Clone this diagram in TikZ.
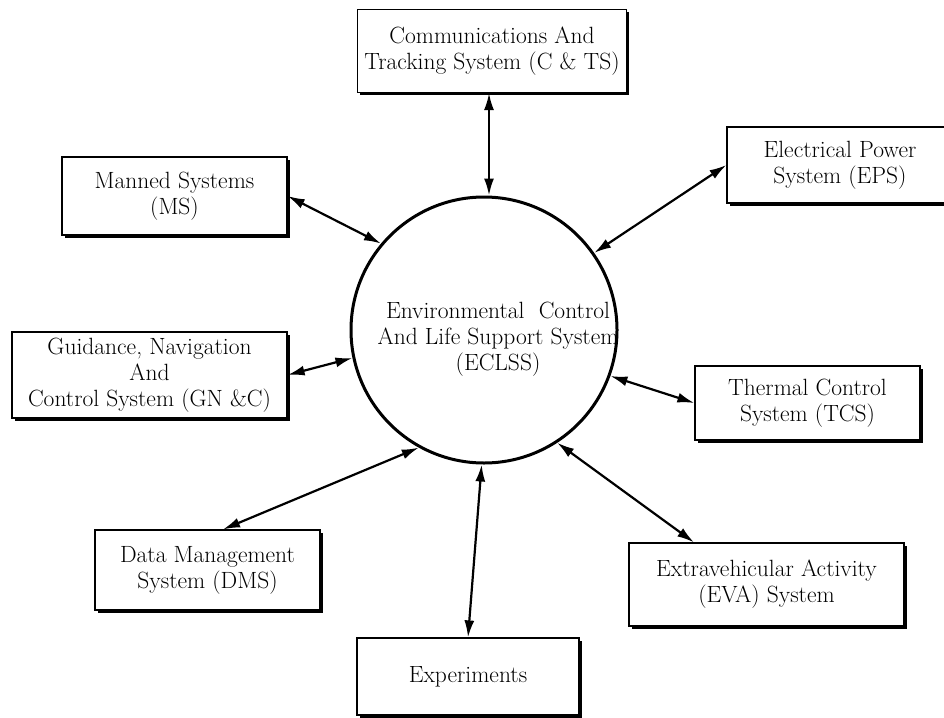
\documentclass[tikz,border=0pt]{standalone}
\usetikzlibrary{arrows.meta, shadows}
\begin{document}
\begin{tikzpicture}[x=1pt, y=-1pt,
  every node/.style={font=\fontsize{23.5}{26}\selectfont, align=center},
  sysbox/.style={draw, line width=1.2pt, fill=white, inner sep=0pt,
    drop shadow={shadow xshift=2.5pt, shadow yshift=-2.5pt, opacity=1, fill=black}},
  dbl/.style={{Latex[length=17pt, width=10pt]}-{Latex[length=17pt, width=10pt]}, line width=2.2pt}]
\clip (0,0) rectangle (944,717);
% hub
\node[draw, circle, line width=3pt, minimum size=266pt] (eclss) at (484,330) {};
\node (eclsstext) at (498,339) {Environmental~~Control\\And Life Support System\\(ECLSS)};
% subsystems
\node[sysbox, minimum width=269pt, minimum height=83pt] (cts) at (492,51) {Communications And\\Tracking System (C \& TS)};
\node[sysbox, minimum width=226pt, minimum height=76pt] (eps) at (840,165) {Electrical Power\\System (EPS)};
\node[sysbox, minimum width=225pt, minimum height=78pt] (ms) at (174.5,196) {Manned Systems\\(MS)};
\node[sysbox, minimum width=275pt, minimum height=86pt] (gnc) at (149.5,375) {Guidance, Navigation\\And\\Control System (GN \&C)};
\node[sysbox, minimum width=225pt, minimum height=74pt] (tcs) at (807.5,403) {Thermal Control\\System (TCS)};
\node[sysbox, minimum width=225pt, minimum height=80pt] (dms) at (207.5,570) {Data Management\\System (DMS)};
\node[sysbox, minimum width=275pt, minimum height=83pt] (eva) at (766.5,584.5) {Extravehicular Activity\\(EVA) System};
\node[sysbox, minimum width=222pt, minimum height=77pt] (exp) at (468,676.5) {Experiments};
% links
\draw[dbl] ([xshift=-3pt]cts.south) -- ([xshift=-3pt]cts.south |- eclss.north);
\draw[dbl] (ms.east) -- (eclss.140);
\draw[dbl] (eps.west) -- (eclss.35);
\draw[dbl] (gnc.east) -- (eclss.192);
\draw[dbl] (tcs.west) -- (eclss.-20);
\draw[dbl] (eclss.241) -- ([xshift=15.5pt]dms.north);
\draw[dbl] (eclss.-57) -- ([xshift=-72.5pt]eva.north);
\draw[dbl] (eclss.-91) -- (exp.north);
\end{tikzpicture}
\end{document}
